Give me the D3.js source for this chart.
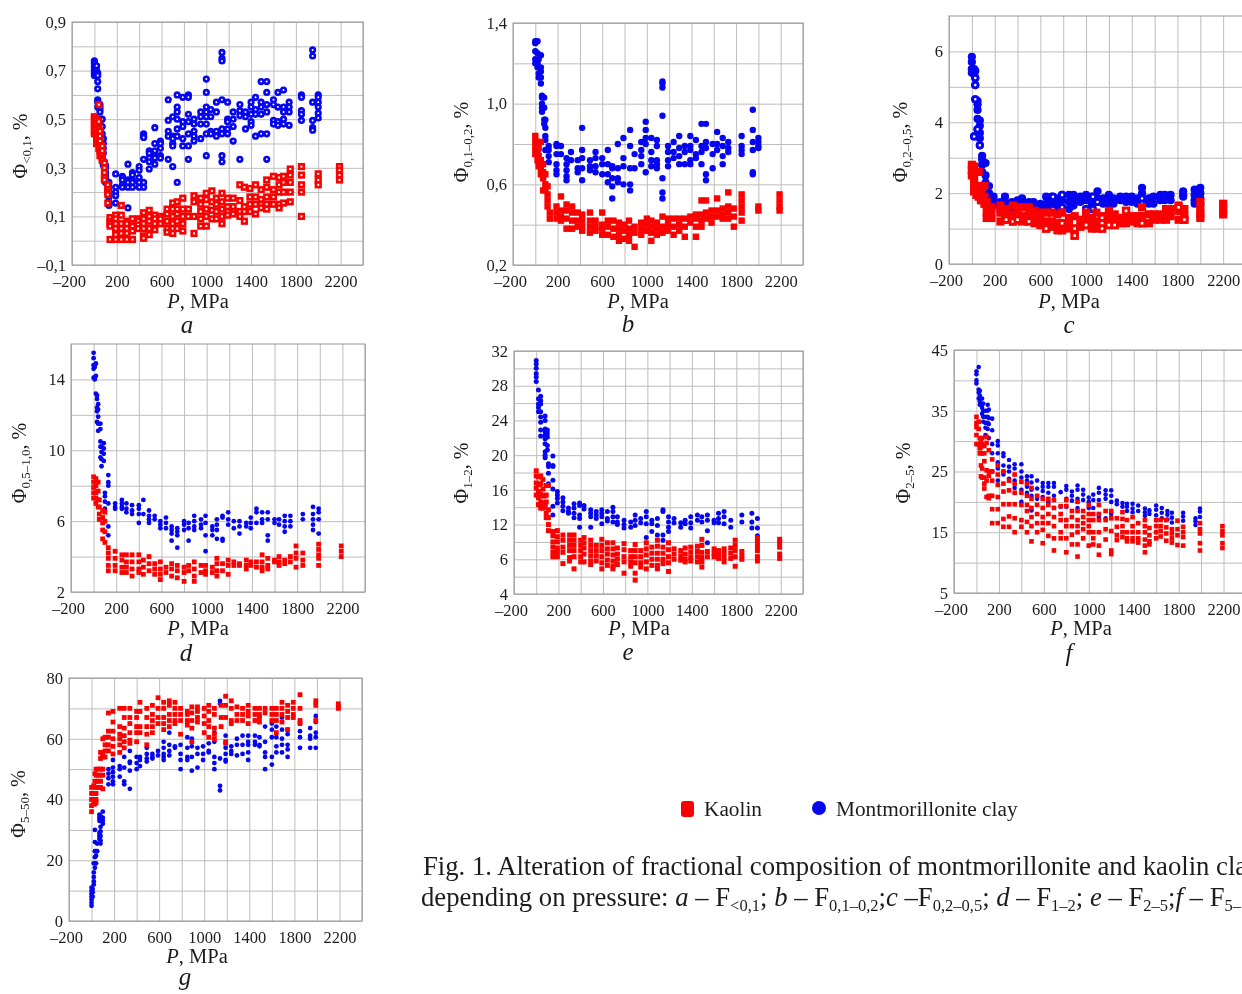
<!DOCTYPE html>
<html><head><meta charset="utf-8"><script src="https://cdn.jsdelivr.net/npm/d3@7"></script>
<style>html,body{margin:0;padding:0;background:#fff;overflow:hidden}svg{display:block;filter:blur(.4px)}text{font-family:"Liberation Serif",serif;fill:#1c1c1c}</style></head><body><script>
// each row: pressure (MPa), then the fraction values read at this pressure
const aClay=[[0,.74,.73,.72,.71,.70,.69,.68],[20,.72,.70,.69,.68],[30,.69,.68,.655,.625,.58,.57,.55],[50,.56,.55,.54,.53,.50,.48],[70,.50,.47,.44,.42,.40,.38],[80,.42,.40,.38,.36,.33,.31],[100,.31,.30,.28,.27,.26,.24],[130,.24,.22,.20,.18,.16,.15,.145],[190,.275,.22,.20,.185,.155],[250,.265,.26,.25,.23,.22],[300,.315,.25,.24,.22,.135],[340,.28,.27,.25,.24,.22],[400,.305,.29,.26,.24,.22],[440,.44,.43,.425,.335,.24,.22],[490,.37,.36,.34,.325,.295],[540,.465,.40,.37,.35,.34,.315],[590,.41,.40,.38,.35,.34],[660,.58,.495,.45,.43,.335],[700,.51,.43,.42,.40,.39,.305],[740,.60,.55,.53,.50,.46,.43,.24],[790,.59,.49,.47,.42,.39],[840,.60,.59,.52,.49,.44,.39,.335],[890,.50,.48,.45,.43,.41],[950,.53,.51,.48,.42],[1000,.665,.61,.55,.53,.51,.48,.44,.35],[1040,.54,.51,.45,.44],[1090,.57,.53,.45,.43],[1140,.775,.75,.74,.58,.46,.44,.35,.325],[1190,.57,.50,.49,.46,.44],[1240,.53,.50,.47,.41],[1300,.56,.535,.515,.335],[1350,.53,.51,.46],[1400,.57,.55,.52,.49,.475],[1440,.59,.54,.52,.43],[1490,.655,.57,.55,.52,.44],[1540,.655,.61,.56,.53,.44,.335],[1600,.58,.56,.495,.48],[1640,.61,.55,.49,.475],[1690,.62,.55,.53,.50,.48],[1740,.57,.55,.53,.475],[1850,.60,.59,.535,.52,.495],[1950,.785,.76,.57,.495,.465,.455],[2000,.60,.59,.57,.55,.525,.505]];
const aKaolin=[[0,.51,.50,.48,.47,.45,.44],[20,.50,.48,.46,.44,.42,.40],[40,.56,.49,.46,.44,.42,.40,.38],[50,.45,.43,.41,.39,.37,.35],[70,.39,.37,.35,.34,.33],[90,.32,.30,.28,.26,.25],[120,.23,.21,.20,.19,.155],[140,.095,.08,.07,.06,.005],[190,.105,.09,.07,.05,.025,.005],[240,.145,.105,.07,.05,.03,.005],[290,.08,.07,.05,.03,.005],[340,.09,.07,.06,.04,.005],[390,.09,.08,.065,.05],[440,.115,.09,.07,.05,.02,.01],[490,.125,.10,.08,.05,.025],[540,.105,.09,.07,.045],[590,.10,.09,.07],[650,.13,.11,.08,.05,.035],[700,.155,.13,.10,.07,.05,.03],[740,.16,.13,.11,.08,.05],[790,.175,.13,.10,.07,.04],[840,.13,.10],[890,.185,.16,.10,.03],[950,.175,.15,.12,.09,.06],[1000,.195,.17,.13,.10,.06],[1050,.205,.16,.125,.09],[1090,.175,.15,.12,.09],[1140,.195,.16,.13,.10,.07],[1190,.175,.14,.12,.105],[1240,.175,.14,.12,.11],[1300,.23,.165,.12,.10],[1340,.22,.14,.12,.08],[1390,.215,.18,.15,.12],[1440,.23,.18,.15,.11],[1490,.21,.17,.15,.135],[1540,.25,.22,.18,.15,.13],[1600,.265,.21,.18,.15],[1650,.26,.23,.20,.15,.135],[1690,.265,.24,.20,.155],[1750,.295,.27,.24,.20,.16],[1850,.305,.27,.23,.20,.10],[2000,.275,.25,.23],[2190,.305,.29,.27,.25]];
const bClay=[[0,1.31,1.30,1.26,1.22,1.20],[20,1.31,1.25,1.20,1.18],[30,1.22,1.15,1.13],[50,1.24,1.18,1.16,1.13,1.10],[60,1.04,1.03,1.00,.98,.96],[80,1.03,.98,.92,.90],[90,.92,.88,.84,.82,.77],[120,.79,.77,.74,.71],[190,.80,.79,.75,.70,.67,.65],[230,.79,.75],[280,.73,.70,.67,.64,.62],[320,.76,.72],[380,.72,.68,.66],[420,.88,.77,.73,.68,.62],[490,.72,.69,.67],[540,.76,.73,.69,.66],[600,.73,.70,.65],[650,.77,.70,.65,.61],[690,.69,.68,.63,.59,.53],[740,.80,.68,.63,.61],[790,.83,.73,.69,.60],[850,.87,.79,.68,.60,.57],[890,.75,.68],[950,.81,.77,.74,.70],[990,.91,.87,.83,.80,.66],[1040,.83,.76,.72,.69],[1090,.82,.79,.72,.70,.68],[1140,1.11,1.10,1.08,.94,.63,.56,.53],[1190,.79,.76,.72,.69],[1240,.81,.76,.73],[1290,.84,.78,.74,.70],[1340,.79,.76,.70],[1390,.84,.79,.77,.72,.70],[1440,.82,.75,.73],[1490,.90,.79,.76,.70],[1530,.90,.81,.78,.65,.62],[1590,.80,.75,.68],[1630,.86,.80,.77],[1680,.83,.79,.74,.70],[1730,.81,.78,.76],[1850,.84,.79,.77,.75],[1950,.97,.87,.81,.77,.66,.65],[2000,.83,.81,.79,.78]];
const bKaolin=[[0,.84,.81,.78,.75],[20,.81,.78,.75,.72],[30,.78,.74,.71,.69],[50,.81,.72,.68,.65],[70,.70,.66,.63,.57],[90,.65,.60,.57],[110,.59,.55,.52,.49],[130,.46,.43],[190,.49,.46,.43],[230,.54,.47,.44,.42],[280,.50,.47,.43,.38],[330,.49,.46,.42,.38],[380,.46,.42,.39],[420,.45,.42,.39,.37],[490,.46,.42,.39,.36],[540,.42,.39,.37],[600,.46,.40,.38,.35],[650,.42,.39,.35],[700,.42,.38,.34],[750,.41,.38,.35,.32],[800,.40,.37,.33],[840,.42,.38,.35,.32],[890,.39,.36,.29],[950,.41,.38,.35],[1000,.43,.40,.37],[1040,.42,.39,.36,.32],[1090,.41,.38,.35],[1140,.44,.39,.36],[1190,.43,.40,.37],[1240,.43,.39,.35],[1290,.43,.40,.37],[1340,.43,.39,.34],[1390,.44,.41],[1440,.45,.43,.39,.34],[1490,.52,.45,.42,.39],[1530,.52,.46,.43],[1580,.47,.44,.41],[1630,.53,.47,.44],[1680,.48,.45,.43],[1730,.56,.49,.46,.43],[1780,.48,.44,.39],[1850,.55,.52,.49,.46,.42],[2000,.49,.47],[2190,.55,.52,.49,.47]];
const cClay=[[0,5.85,5.7,5.5,5.4],[20,5.5,5.35,3.6],[30,5.45,5.25,5.05,4.65],[50,4.6,4.5,4.35,4.1,3.8],[70,4.05,3.9,3.7,3.55,3.35],[90,3.05,2.95,2.8,2.6],[120,2.85,2.5,2.3,2.2],[150,2.2,2.0,1.85],[190,1.9,1.8,1.65],[250,1.75,1.6,1.5],[290,1.9,1.75,1.6],[350,1.75,1.6],[400,1.8,1.7,1.6],[440,1.85,1.7,1.6],[500,1.75,1.6],[540,1.75,1.6],[600,1.7,1.55],[650,1.9,1.7,1.55],[700,1.9,1.75,1.55],[750,1.85,1.7,1.55],[790,1.95,1.8,1.6],[850,1.95,1.75,1.55],[890,1.95,1.8,1.65],[950,1.9,1.75],[1000,1.95,1.8,1.55],[1050,1.9,1.7,1.55],[1100,2.05,1.85,1.75],[1150,1.85,1.7],[1200,1.95,1.8,1.65],[1240,1.85,1.7],[1300,1.9,1.8],[1350,1.9,1.75],[1400,1.9,1.75],[1450,1.85,1.7],[1490,2.15,2.0,1.85,1.7],[1550,1.85,1.7],[1590,1.9,1.7],[1650,1.95,1.8],[1690,1.95,1.8],[1740,1.95,1.8],[1850,2.05,1.95,1.9],[1950,2.1,1.95,1.8,1.7],[2000,2.15,2.0,1.85,1.7]];
const cKaolin=[[0,2.8,2.65,2.5],[20,2.75,2.4,2.2,2.05],[40,2.6,2.2,1.95],[60,2.6,2.2,1.9],[80,2.2,2.0,1.8],[110,2.2,1.9,1.7],[130,1.75,1.5,1.3],[170,1.6,1.4,1.3],[250,1.65,1.45,1.2],[290,1.55,1.4,1.25],[360,1.65,1.4,1.2],[400,1.6,1.4,1.25],[440,1.6,1.35,1.2],[500,1.6,1.4,1.2],[550,1.5,1.3,1.15],[600,1.45,1.25,1.1],[650,1.45,1.2,1.0],[700,1.45,1.2,1.05],[750,1.4,1.15,.95],[790,1.45,1.15,.95],[850,1.3,1.1,1.0],[900,1.35,1.0,.8],[950,1.25,1.05],[1000,1.45,1.25,1.1],[1050,1.3,1.15,1.0],[1090,1.45,1.2,1.0],[1140,1.35,1.15,1.0],[1200,1.5,1.3,1.1],[1250,1.4,1.25,1.1],[1300,1.3,1.15],[1350,1.5,1.3,1.15],[1400,1.35,1.2],[1450,1.35,1.15],[1490,1.6,1.35,1.15],[1550,1.4,1.15],[1590,1.4,1.25],[1650,1.4,1.25],[1700,1.55,1.35,1.25],[1740,1.55,1.35],[1810,1.65,1.5,1.25],[1860,1.55,1.35,1.25],[2000,1.75,1.55,1.4,1.3],[2200,1.7,1.55,1.4]];
const cClayRings=[[30,5.25],[30,5.05],[30,4.65],[20,3.6],[50,3.8],[70,3.35],[710,1.9],[710,1.55],[790,1.95],[790,1.6],[1000,1.55],[1060,1.9],[1060,1.55],[1100,1.75],[1490,1.85],[1490,1.7]];
const cKaolinRings=[[300,1.25],[360,1.2],[400,1.25],[500,1.2],[650,1.0],[790,1.15],[900,1.0],[900,.8],[1000,1.1],[1140,1.3],[1140,1.15],[1140,1.0],[1200,1.1],[1250,1.1],[1350,1.5],[1490,1.15],[1810,1.6],[1860,1.25]];
const dClay=[[0,15.5,15.2,14.8,14.6,14.1],[10,14.8,14.7,14.1,14.0],[20,14.9,14.2,13.2],[30,13.1,12.9,12.4,12.2,11.6],[40,12.6,12.3,11.9,11.5,11.1],[60,11.5,11.2,10.5,10.2,9.6],[70,10.2,9.9,9.5,9.1],[90,10.4,10.1,9.8,9.4],[100,7.6,7.4,7.1,6.7],[130,8.6,8.2,8.0,7.0,5.7,5.2],[190,7.0,6.8,6.7],[250,7.2,7.0,6.8,6.7],[290,7.0,6.7,6.5],[340,6.9,6.6,6.4],[400,6.9,6.7,6.4,5.9],[440,7.2,6.4],[490,6.6,6.3,6.1,5.9],[540,6.3,6.1],[590,6.0,5.8,5.6],[640,6.2,5.9,5.6],[690,5.7,5.5,5.3,4.9],[740,5.6,5.4,5.2,4.5],[800,6.0,5.8,5.5],[840,5.9,5.6,4.9],[890,6.3,6.0,5.7,5.5],[950,6.1,5.8,5.6],[990,6.3,5.9,5.2,4.3],[1050,5.7,5.5,5.2],[1090,6.1,5.8,5.5,5.0],[1140,6.3,6.2,5.0,4.9],[1190,6.5,6.1,5.8],[1240,6.0,5.6],[1290,6.0,5.7,5.3],[1350,5.9,5.7],[1390,6.2,5.9,5.6],[1440,6.7,6.5,5.9],[1490,6.5,6.1,5.9],[1540,6.5,6.1,5.2,4.9],[1600,6.1,5.9],[1640,6.1,5.8],[1690,6.3,6.0,5.7,5.4],[1740,6.3,6.0,5.7],[1850,6.4,6.1],[1940,6.8,6.4,6.1,5.8,5.5],[1990,6.7,6.5,6.1,5.3]];
const dKaolin=[[0,8.5,8.2,7.9,7.6,7.3],[20,8.4,8.0,7.6,7.3,7.0],[40,8.2,7.7,7.2,6.8],[50,7.2,6.8,6.4,6.1],[80,6.6,6.2,5.9,5.5,5.0],[100,6.5,6.0,5.4,4.8],[130,4.5,4.2,3.9,3.5,3.2],[190,4.3,3.9,3.5,3.2],[250,4.1,3.8,3.4,3.1],[290,4.1,3.7,3.4,3.1],[340,4.1,3.7,3.3,2.9],[400,4.1,3.7,3.3,3.1],[440,3.8,3.4,3.0],[490,4.0,3.6,3.2],[540,3.6,3.3,3.0],[590,3.7,3.3,3.0,2.7],[640,3.4,3.1],[690,3.6,3.3,2.9],[740,3.5,3.2,2.8],[800,3.4,3.1,2.6],[840,3.5,3.2],[890,3.7,3.3,2.9,2.6],[950,3.5,3.1],[990,3.5,3.2,3.0],[1050,3.4,3.1],[1090,3.9,3.6,3.2,2.9],[1140,3.6,3.2],[1190,3.8,3.5,3.0],[1240,3.7,3.5],[1290,3.6,3.5],[1350,3.8,3.5,3.3],[1390,3.7,3.5],[1440,3.7,3.4],[1490,4.1,3.7,3.4,3.2],[1540,3.9,3.5,3.3],[1600,3.8,3.7],[1640,4.0,3.7,3.5],[1690,3.8,3.6],[1740,4.0,3.7],[1790,4.6,4.2,3.9,3.4],[1850,4.2,3.8,3.5],[1990,4.7,4.4,4.1,3.9,3.5],[2190,4.6,4.3,4.0]];
const eClay=[[0,30.9,30.5,30,29.4,29,28.5],[20,27.5,26.5,25.9,25.5,25],[40,26.8,26.3,25.9,25,24.4,23.8,22.9,22.2],[80,24.5,24,23,22.7,22.3,21.9,21.3,20.4,20,19.7],[100,22.9,22.5,22.1,21.1,20.6],[110,19,18.7,17.9,16.7],[150,19.9,18.8,18.7,17.1,16.1,14.1,13.1],[190,15.8,15.4,15,14.5],[240,15.1,14.6,14.1,13.6],[290,13.9,13.5,13.3],[340,14.4,13.9,13.3,12.8],[390,14.5,14.2,13.1,12.7,11.7],[430,14.2,13.8],[490,13.7,13.3,12.9,11.7],[540,13.5,13.1,12.7],[590,13.7,13.3,12.9,12.1],[640,13.5,12.7,12.4],[690,14,13.5,12.9,12.3],[730,12.9,12.3,12],[790,12.5,12,11.6],[850,12.3,11.7],[890,13.1,12.5,11.9],[940,12.7,12.2],[990,13.5,12.9,12.1,10.5],[1040,12.5,12.1,11.2],[1090,12.7,11.9,10.8],[1140,13.7,13.5,10.8,10.2],[1190,12.9,12.3,11.7,11.2],[1240,12.7,12.2],[1300,12.2,11.7],[1340,12.5,12.1],[1390,12.9,12.2,11.6],[1450,13.1,12.5],[1490,12.9,12.3],[1540,13.1,12.5,11.3,9.9],[1600,12.5,12.2],[1640,13.3,12.7,12.2],[1690,13.5,12.9,12.1],[1750,12.5,11.7],[1850,13.1,12.3],[1940,13.3,12.3,11.6],[1990,12.7,11.6,10.7]];
const eKaolin=[[0,18.2,17.6,16.8,16.2,15.4],[20,17.5,16.6,15.8,15.1,14.3],[40,17.6,16.7,15.5,14.6,13.9],[60,17.2,16.1,15.3,14.4,13.9],[80,15.3,14.5,14.0],[90,16.5,15.4,14.6,13.3,12.8],[110,16.5,13.7,12.8,12.0,11.3],[150,11.2,10.7,10.0,9.4,8.8,8.3],[190,11.3,10.6,10.0,9.3,8.8,8.3],[240,10.8,10.2,9.4,8.8,7.5],[300,10.8,10.2,9.6,9.0,8.2,7.8],[340,10.8,10.2,9.6,9.0,8.3,6.9],[400,10.2,9.6,9.0,8.3,7.7],[430,10.5,9.9,9.3,8.6,7.7],[490,10.2,9.6,9.0,8.4,7.8,7.4],[540,9.6,9.0,8.4,7.8],[590,10.3,9.6,9.0,8.3,7.6,6.9],[640,9.9,9.2,8.6,7.9,7.3],[690,9.9,9.2,8.5,7.8,7.2,6.9],[730,9.3,8.6,8.0,7.4],[790,9.8,9.1,8.3,7.7,6.4],[850,9.0,8.3,7.7,7.2],[890,9.7,9.0,8.3,7.6,6.4,5.6],[940,9.0,8.3,7.6,7.1],[990,9.9,9.2,8.5,7.7,6.9],[1040,9.4,8.7,8.0,7.3],[1090,10.2,9.5,8.7,8.0,7.3,6.9],[1140,9.4,8.7,8.0,7.5],[1190,9.9,9.1,8.3,7.6,6.6],[1240,9.2,8.6,8.0],[1300,9.0,8.4,7.9],[1340,9.3,8.6,8.0,7.7],[1390,9.4,8.8,8.2,7.8],[1450,9.5,8.9,8.3,7.7],[1490,10.3,9.6,8.8,8.2,7.7,7.1],[1540,8.9,8.3],[1600,9.2,8.7,8.3],[1640,9.0,8.6,8.1],[1690,9.2,8.7,8.2,7.7],[1750,9.3,8.7,8.1],[1790,10.2,9.6,9.0,8.3,7.2],[1850,8.9,8.4,8.0],[1990,10.5,10.0,9.5,9.0,8.3,7.8],[2190,10.3,9.9,9.4,8.6,8.1]];
const fClay=[[0,41.5,41,40,39.5],[20,42.2,38.5,38,37],[30,38.3,37.5,36.5,36],[50,37,36,35.5,34.5],[60,36.2,35,34,33.2],[80,35,34,33,32.2,31],[100,36,35,34,33,32],[110,35.2,33.8,32.8,30.5],[140,33.7,31.8,29.5,28,25],[190,30,29.3,28,26.5,25.5,23.5],[240,28,27.5,26,25,24.5],[290,26.9,25.8,25,23.8],[340,26.2,25.5,23.5,22.3],[400,26.2,25,24,22,20],[450,24.2,23.5,22.5,21.5],[490,24.2,23.2,22,21,18.6],[540,23.5,22.2,20.5],[590,23.1,22.5,21.8,20.8],[640,23.1,22.5,21.5,20],[690,23.1,22.5,21,19],[750,21.6,19.2],[800,22.6,22,20.5,19.2],[850,21.7,21,20.2],[900,22.7,22,20.5,19],[950,22,21.2,20.3],[1000,20.7,20,19],[1040,21.2,20.3,19],[1090,22.3,21.5,20.3,18,17.5],[1150,21.9,21.2,20.5,17.3],[1200,21.9,21,20,18],[1250,20.2,19.6],[1300,19.8,19.2],[1340,19.7,19.2,18.5],[1390,19.7,18.9,18.3],[1440,19.4,18.5],[1500,18.9,18.3,17.7],[1540,18.6,18],[1600,19.4,18.7,17.8,17],[1650,19,18.2,17.3],[1700,18.5,17.9,17.1],[1740,18.2,17.4,16.6],[1840,18.2,17.6,16.9],[1950,17.3,16.8,16.2],[1990,18.9,18.4,17.5]];
const fKaolin=[[0,34,33,32.3,31,29.5],[20,33.2,32,29.5],[30,30.5,29.5,28.8,28],[40,29.8,29,28,26,24.2],[50,30.5,29.5,28,25.5,24],[70,29.2,28,26.7,24,23,22.2],[90,30.7,29.7,25.2,23.5,20.8],[110,28.5,25,24.3,21,20.6],[140,27,25,23.5,21,18.8,16.5],[190,26,24.5,22.8,20.8,18.8,16.5],[240,25,23,21.7,19.6,17.2,15.9],[290,23.5,21.9,19.6,17.6,15.9],[340,24.5,23,21.5,19.6,17.3,15],[400,23.3,21.5,19.5,17,15.9],[450,23,21,19.5,18.5,16.7,15],[490,22.3,20.5,19,17.5,16,13.5],[540,21,19.5,18,16.5,15],[590,20.5,19,17.5,16.5,15.4,13.2],[640,20.5,19.5,18,16.5,14.4],[690,20.3,19,17.5,16,14,12],[750,19.3,18,17,15,14],[800,20.3,19.3,17,16,14,11.7],[850,18.5,17.5,16,14.6,13],[900,20,18.5,17,16,15,13,11],[950,18.5,17.5,16.5,15.5,14],[1000,19.5,18,17,16,15,12.8],[1040,18,17,15,14,13],[1090,19.5,18,17,15,12.8,11.3],[1150,18.5,17,15.5,13.8],[1200,18.5,17.3,15.2,12,11.4],[1250,17.3,15.9,14.5,13.7],[1300,18.3,17.2,16,15,14.2],[1340,17,15,14,13.5],[1390,17.5,16,15,14,13.5],[1440,16.5,15,14,13.3],[1500,17,16,15,13.8,12.8,11.7],[1540,15.7,14.5,13.5,13],[1600,17,16,15,14],[1640,17,16,15.2,14.3],[1690,17,15.8,14.8,13.6],[1740,15.5,14.8,14,13.3],[1790,16.9,15.5,14.5,12.9],[1840,15.9,15,14.2,12.8],[1990,16.5,15.5,14.8,13.2,12],[2190,16,15.2,14.5,13.2,12.4]];
const gClay=[[0,11,10,9,8,7,6,5],[10,10.5,9.5,8],[20,19,16,14.5,13,12],[30,30,26,23,21,19,17.5],[40,23,21.5,19],[50,25.5,23],[70,35,34,33,29,28,27],[80,34.5,33,31,29.5,28,26.5,25.5],[100,36,34,33,32],[150,50,48.5,47,45],[190,53,50.5,49,47.5,46,45],[250,51,50,47.5],[290,54,50.5,46,45],[340,56,52.5,52,49.5,43.5],[400,54,52,50],[430,54,53,51],[490,57,55,53.5,52.5],[540,55,54,53.5],[590,56,54.5],[640,59,57,55,54,53],[690,62,58,56,54.5],[740,57.5,57],[790,58,55,53,50],[850,60.5,57,54,53],[890,60,57.5,54,49.5],[940,57,55,50.5],[990,57.5,55,53],[1040,58.5,56,55.5],[1090,62,59,54,52,50],[1140,72.5,71.5,53.5,44.5,43],[1190,61,57,55,53,52.5],[1240,57.5,56,55],[1290,60,58,54.5],[1340,61,58,55],[1390,61,59,58,55.5,53],[1450,61,59,58],[1490,60.5,58,57.5],[1540,64,59,55.5,54,50],[1600,65,63,60.5,54,51.5],[1640,64,60.5,57.5,55.5],[1690,67,63,60,58,55.5],[1740,63,61.5,58,56.5,54],[1850,65,62.5,60.5,57],[1940,63.5,61,60,57],[1990,67.5,65.5,62,60.5,57]];
const gKaolin=[[0,44,42,40,38,36],[20,44.5,42,40,38.5],[30,48.5,46,44,42,40,38.5],[40,50,48,46,44,42,40,39],[60,50,48,46,44],[80,55.5,53.5,50,48,46,44],[100,60,55,54,50,48,43.5],[120,60.5,58,56,54],[150,68.5,62.5,60.5,58,56],[190,69,65.5,62.5,60,57.5,55],[250,70,64,61.5,60,58,55.5],[290,70,67,63.5,61,59,57],[340,70,67,65,62,59.5,58.5],[400,69,67,64,62,59],[430,72,69,64,62],[490,70,67,64,61.5,58],[540,71,68,66,64,62],[590,73.5,70,67,65],[640,72,70,67,65,63],[690,72.5,71,68,66,64],[740,72,70,68,66,65],[790,70,68,66,61.5],[850,69,68,66,64.5],[890,70.5,68.5,66,63.5,59],[940,70.5,69,67,65.5],[1000,70,67.5,65,62],[1040,71,69,66,64,60.5],[1090,70,68,63.5,61.5,60],[1150,71,67,64],[1190,74,71,67,59,58.5],[1240,72.5,70,66,65],[1290,70.5,68,66],[1340,70,68,66],[1390,71,69,67.5,65],[1450,70,68,66],[1490,70,68,67,65.5],[1540,70,68.5],[1600,70,68,66],[1640,70,68,66,62],[1690,72,70,68,65.5],[1740,71,69,67,63],[1790,72,70,68,67],[1850,74.5,70,66,65],[1990,72.5,71,66],[2190,71.5,70.5,70]];

const xGridTicks=d3.range(-200,2401,200);
const xLabelTicks=[-200,200,600,1000,1400,1800,2200];
const aYTicks=[-.1,.1,.3,.5,.7,.9], aYLabels=["–0,1","0,1","0,3","0,5","0,7","0,9"], aYGrid=[0,.2,.4,.6,.8];
const bYTicks=[.2,.6,1,1.4], bYLabels=["0,2","0,6","1,0","1,4"], bYGrid=[.4,.8,1.2];
const cYTicks=[0,2,4,6], cYLabels=["0","2","4","6"], cYGrid=[1,3,5];
const dYTicks=[2,6,10,14], dYLabels=["2","6","10","14"], dYGrid=[4,8,12];
const eYTicks=[4,8,12,16,20,24,28,32], eYLabels=["4","6","12","16","20","24","28","32"], eYGrid=[6,10,14,18,22,26,30];
const fYTicks=[5,15,25,35,45], fYLabels=["5","15","25","35","45"], fYGrid=[10,20,30,40];
const gYTicks=[0,20,40,60,80], gYLabels=["0","20","40","60","80"], gYGrid=[10,30,50,70];
const legendLabels=["Kaolin","Montmorillonite clay"];
const caption1="Fig. 1. Alteration of fractional composition of montmorillonite and kaolin clays";
const caption2=[["depending on pressure: "],["a","i"],[" – F"],["<0,1","s"],["; "],["b","i"],[" – F"],["0,1–0,2","s"],[";"],["c","i"],[" –F"],["0,2–0,5","s"],["; "],["d","i"],[" – F"],["1–2","s"],["; "],["e","i"],[" – F"],["2–5","s"],[";"],["f","i"],[" – F"],["5–50","s"]];

const RED="#fa0000",BLUE="#0505f0";
const panels=[
{id:"a",sub:"<0,1",box:[72,22,363,265],y:[-.1,.9],t:aYTicks,l:aYLabels,g:aYGrid,k:aKaolin,c:aClay,r:2.6,ringR:2.3,w:2.6,ring:true,px:198,py:308,lx:187,ly:333,yx:27,yy:146},
{id:"b",sub:"0,1–0,2",box:[513,23,803,265],y:[.2,1.4],t:bYTicks,l:bYLabels,g:bYGrid,k:bKaolin,c:bClay,r:3.2,w:0,px:638,py:308,lx:628,ly:332,yx:468,yy:142},
{id:"c",sub:"0,2–0,5",box:[949,16,1246,264],y:[0,7],t:cYTicks,l:cYLabels,g:cYGrid,k:cKaolin,c:cClay,r:4.1,ringR:2.7,w:2.8,rk:cKaolinRings,rc:cClayRings,px:1069,py:308,lx:1069,ly:333,yx:907,yy:142},
{id:"d",sub:"0,5–1,0",box:[71,344,365,592],y:[2,16],t:dYTicks,l:dYLabels,g:dYGrid,k:dKaolin,c:dClay,r:2.4,w:0,px:198,py:635,lx:186,ly:661,yx:26,yy:463},
{id:"e",sub:"1–2",box:[514,351,803,594],y:[4,32],t:eYTicks,l:eYLabels,g:eYGrid,k:eKaolin,c:eClay,r:2.5,w:0,px:639,py:635,lx:628,ly:660,yx:468,yy:473},
{id:"f",sub:"2–5",box:[954,350,1246,593],y:[5,45],t:fYTicks,l:fYLabels,g:fYGrid,k:fKaolin,c:fClay,r:2.3,w:0,px:1081,py:635,lx:1069,ly:661,yx:910,yy:473},
{id:"g",sub:"5–50",box:[69,678,362,921],y:[0,80],t:gYTicks,l:gYLabels,g:gYGrid,k:gKaolin,c:gClay,r:2.4,w:0,px:197,py:963,lx:185,ly:985,yx:25,yy:804}];

const svg=d3.select("body").append("svg").attr("width",1242).attr("height",994);
const flat=rows=>rows.flatMap(([p,...vs])=>vs.map(v=>[p,v]));

panels.forEach(p=>{
  const [L,T,R,B]=p.box;
  const x=d3.scaleLinear().domain([-200,2400]).range([L,R]);
  const y=d3.scaleLinear().domain(p.y).range([B,T]);
  const g=svg.append("g");
  const style=s=>s.call(a=>a.select(".domain").remove()).call(a=>a.selectAll("line").attr("stroke","#bdbdbd").attr("stroke-width",1))
    .call(a=>a.selectAll("text").attr("fill","#1c1c1c").attr("font-size",16.5).attr("font-family","Liberation Serif"));
  g.append("g").attr("transform",`translate(0,${B})`).call(d3.axisBottom(x).tickValues(xGridTicks).tickSize(T-B).tickPadding(10)
    .tickFormat(d=>xLabelTicks.includes(d)?String(d).replace("-","–"):"")).call(style)
    .call(a=>a.selectAll("text").filter(d=>d===-200).attr("dx",-3));
  g.append("g").attr("transform",`translate(${L},0)`).call(d3.axisLeft(y).tickValues(p.g).tickSize(L-R).tickFormat("")).call(style);
  g.append("g").attr("transform",`translate(${L},0)`).call(d3.axisLeft(y).tickValues(p.t).tickSize(L-R).tickPadding(6).tickFormat((d,i)=>p.l[i])).call(style);
  g.append("rect").attr("x",L).attr("y",T).attr("width",R-L).attr("height",B-T).attr("fill","none").attr("stroke","#959595");

  const circ=(data,ring)=>g.append("g").selectAll("circle").data(data).join("circle")
    .attr("cx",d=>x(d[0])).attr("cy",d=>y(d[1]))
    .attr("r",ring?p.ringR:p.r).attr("fill",ring?"#fff":BLUE).attr("stroke",ring?BLUE:"none").attr("stroke-width",ring?p.w:0);
  const squ=(data,ring)=>{const s=ring?p.ringR:p.r;g.append("g").selectAll("rect").data(data).join("rect")
    .attr("x",d=>x(d[0])-s).attr("y",d=>y(d[1])-s).attr("width",2*s).attr("height",2*s)
    .attr("fill",ring?"#fff":RED).attr("stroke",ring?RED:"none").attr("stroke-width",ring?p.w:0);};
  circ(flat(p.c),!!p.ring);
  if(p.rc)circ(p.rc,true);
  squ(flat(p.k),!!p.ring);
  if(p.rk)squ(p.rk,true);

  const pt=g.append("text").attr("x",p.px).attr("y",p.py).attr("text-anchor","middle").attr("font-size",20.5);
  pt.append("tspan").attr("font-style","italic").text("P");pt.append("tspan").text(", MPa");
  g.append("text").attr("x",p.lx).attr("y",p.ly).attr("text-anchor","middle").attr("font-size",25).attr("font-style","italic").text(p.id);
  const yt=g.append("text").attr("transform",`translate(${p.yx},${p.yy}) rotate(-90)`).attr("text-anchor","middle").attr("font-size",20);
  yt.append("tspan").text("Φ");
  yt.append("tspan").attr("dy",4).attr("font-size",13).text(p.sub);
  yt.append("tspan").attr("dy",-4).text(", %");
});

// legend
svg.append("rect").attr("x",681).attr("y",801).attr("width",13).attr("height",16).attr("rx",3).attr("fill",RED);
svg.append("circle").attr("cx",819).attr("cy",808).attr("r",7).attr("fill",BLUE);
svg.append("text").attr("x",704).attr("y",816).attr("font-size",21.3).text(legendLabels[0]);
svg.append("text").attr("x",836).attr("y",816).attr("font-size",21.3).text(legendLabels[1]);

// caption
svg.append("text").attr("x",423).attr("y",875).attr("font-size",26.7).text(caption1);
const cap=svg.append("text").attr("x",421).attr("y",906).attr("font-size",26.7);
let shift=0;
caption2.forEach(([t,k])=>{
  const dy=k==="s"?5:-shift;shift=k==="s"?5:0;
  const s=cap.append("tspan").attr("dy",dy).text(t);
  if(k==="i")s.attr("font-style","italic");
  if(k==="s")s.attr("font-size",16.5);
});
</script></body></html>
